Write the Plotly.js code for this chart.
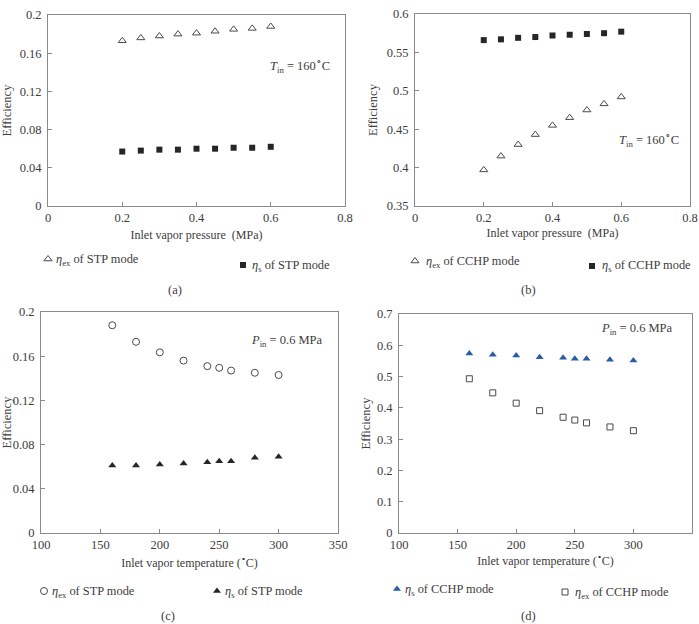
<!DOCTYPE html>
<html>
<head>
<meta charset="utf-8">
<script src="https://cdn.plot.ly/plotly-3.0.1.min.js"></script>
<style>
  html, body { margin: 0; padding: 0; background: #fff; }
  #chart { width: 699px; height: 624px; }
</style>
</head>
<body>
<div id="chart"></div>
<script>
// Inlet vapor pressure (MPa), panels (a) and (b)
const pressure = [0.2, 0.25, 0.3, 0.35, 0.4, 0.45, 0.5, 0.55, 0.6];
const stpExByPressure = [0.173, 0.176, 0.178, 0.180, 0.181, 0.183, 0.185, 0.186, 0.188];
const stpSByPressure = [0.057, 0.058, 0.059, 0.059, 0.060, 0.060, 0.061, 0.061, 0.062];
const cchpExByPressure = [0.397, 0.415, 0.430, 0.443, 0.455, 0.465, 0.475, 0.483, 0.492];
const cchpSByPressure = [0.566, 0.567, 0.569, 0.570, 0.572, 0.573, 0.574, 0.575, 0.577];

// Inlet vapor temperature (°C), panels (c) and (d)
const temperature = [160, 180, 200, 220, 240, 250, 260, 280, 300];
const stpExByTemp = [0.188, 0.173, 0.1635, 0.156, 0.151, 0.1495, 0.147, 0.145, 0.143];
const stpSByTemp = [0.061, 0.061, 0.062, 0.063, 0.064, 0.065, 0.065, 0.068, 0.069];
const cchpSByTemp = [0.574, 0.570, 0.567, 0.562, 0.560, 0.557, 0.557, 0.554, 0.551];
const cchpExByTemp = [0.493, 0.448, 0.415, 0.391, 0.370, 0.361, 0.352, 0.339, 0.327];

// Series labels shown beside each legend symbol
const labels = [
  '<i>η</i><sub>ex</sub> of STP mode', '<i>η</i><sub>s</sub> of STP mode',
  '<i>η</i><sub>ex</sub> of CCHP mode', '<i>η</i><sub>s</sub> of CCHP mode',
  '<i>η</i><sub>ex</sub> of STP mode', '<i>η</i><sub>s</sub> of STP mode',
  '<i>η</i><sub>s</sub> of CCHP mode', '<i>η</i><sub>ex</sub> of CCHP mode',
];

const W = 699, H = 624;
const FONT = 'Liberation Serif, Times New Roman, serif';
const TXT = '#3c3c3c';
const AX = '#8a8a8a';
const BLUE = '#2a5ba5';

function trace(x, y, xa, ya, legend, marker) {
  // legend entry carries only the symbol; the label is set as an annotation next to it
  return { x, y, xaxis: xa, yaxis: ya, name: ' ', legend, type: 'scatter', mode: 'markers',
           marker, cliponaxis: false };
}

const openTri = { symbol: 'triangle-up-open', size: 7, color: '#4a4a4a', line: { width: 1 } };
const solidSq = { symbol: 'square', size: 6, color: '#262626' };
const openCirc = { symbol: 'circle-open', size: 7, color: '#4a4a4a', line: { width: 1 } };
const solidTri = { symbol: 'triangle-up', size: 7, color: '#262626' };
const blueTri = { symbol: 'triangle-up', size: 7, color: BLUE };
const openSq = { symbol: 'square-open', size: 6, color: '#4a4a4a', line: { width: 1 } };

const data = [
  trace(pressure, stpExByPressure, 'x', 'y', 'legend', openTri),
  trace(pressure, stpSByPressure, 'x', 'y', 'legend2', solidSq),
  trace(pressure, cchpExByPressure, 'x2', 'y2', 'legend3', openTri),
  trace(pressure, cchpSByPressure, 'x2', 'y2', 'legend4', solidSq),
  trace(temperature, stpExByTemp, 'x3', 'y3', 'legend5', openCirc),
  trace(temperature, stpSByTemp, 'x3', 'y3', 'legend6', solidTri),
  trace(temperature, cchpSByTemp, 'x4', 'y4', 'legend7', blueTri),
  trace(temperature, cchpExByTemp, 'x4', 'y4', 'legend8', openSq),
];

function xAxis(domain, anchor, range, dtick, title, standoff) {
  return {
    domain, anchor, range, dtick, tick0: 0,
    showline: true, mirror: true, linecolor: AX, linewidth: 1,
    ticks: 'inside', ticklen: 4, tickcolor: AX, showgrid: false, zeroline: false,
    tickfont: { family: FONT, size: 12.5, color: TXT },
    title: { text: title, standoff, font: { family: FONT, size: 12, color: TXT } },
  };
}
function yAxis(domain, anchor, range, dtick, standoff) {
  return {
    domain, anchor, range, dtick,
    showline: true, mirror: true, linecolor: AX, linewidth: 1,
    ticks: 'inside', ticklen: 4, tickcolor: AX, showgrid: false, zeroline: false,
    ticklabelstandoff: 3,
    tickfont: { family: FONT, size: 12.5, color: TXT },
    title: { text: 'Efficiency', standoff, font: { family: FONT, size: 12.5, color: TXT } },
  };
}

// symbol legend: the marker centre sits about 19px right of the legend's x
function leg(cx, cy) {
  return { x: (cx - 19) / W, y: 1 - cy / H, xanchor: 'left', yanchor: 'middle',
           bgcolor: 'rgba(0,0,0,0)', borderwidth: 0, itemwidth: 30,
           font: { family: FONT, size: 2, color: TXT } };
}

function note(text, x, y, size, anchor) {
  return { text, x: x / W, y: 1 - y / H, xref: 'paper', yref: 'paper',
           xanchor: anchor || 'center', yanchor: 'middle',
           showarrow: false, font: { family: FONT, size: size || 13, color: TXT } };
}

// [symbol x, symbol y, label x, label y]
const legendSpots = [
  [47, 259, 54, 260], [242, 265, 250, 266],
  [414, 261, 424, 262], [591, 266, 600, 266],
  [43, 591, 50, 592], [216, 591, 223, 592],
  [396, 589, 403, 590], [564, 592, 573, 593],
];

const annotations = [
  note('<i>T</i><sub>in</sub> = 160<sup>∘</sup>C', 332, 66, 12.5, 'right'),
  note('<i>T</i><sub>in</sub> = 160<sup>∘</sup>C', 681, 140, 12.5, 'right'),
  note('<i>P</i><sub>in</sub> = 0.6 MPa', 325, 341, 12.5, 'right'),
  note('<i>P</i><sub>in</sub> = 0.6 MPa', 675, 329, 12.5, 'right'),
  note('(a)', 175, 290, 12.5),
  note('(b)', 528, 290, 12.5),
  note('(c)', 168, 616, 12.5),
  note('(d)', 528, 616, 12.5),
];
legendSpots.forEach((s, i) => annotations.push(note(labels[i], s[2], s[3], 12.4, 'left')));

const layout = {
  width: W, height: H,
  margin: { l: 0, r: 0, t: 0, b: 0 },
  paper_bgcolor: '#fff', plot_bgcolor: '#fff',
  showlegend: true,
  xaxis: xAxis([48 / W, 345 / W], 'y', [0, 0.8], 0.2, 'Inlet vapor pressure  (MPa)', 6),
  yaxis: yAxis([1 - 206 / H, 1 - 15 / H], 'x', [0, 0.2], 0.04, 6),
  xaxis2: xAxis([415 / W, 690 / W], 'y2', [0, 0.8], 0.2, 'Inlet vapor pressure  (MPa)', 4),
  yaxis2: yAxis([1 - 206 / H, 1 - 14 / H], 'x2', [0.35, 0.6], 0.05, 6),
  xaxis3: xAxis([41 / W, 338 / W], 'y3', [100, 350], 50, 'Inlet vapor temperature (<sup>∘</sup>C)', 7),
  yaxis3: yAxis([1 - 533 / H, 1 - 312 / H], 'x3', [0, 0.2], 0.04, 3),
  xaxis4: xAxis([399 / W, 692 / W], 'y4', [100, 350], 50, 'Inlet vapor temperature (<sup>∘</sup>C)', 5),
  yaxis4: yAxis([1 - 533 / H, 1 - 314 / H], 'x4', [0, 0.7], 0.1, 3),
  annotations,
};
legendSpots.forEach((s, i) => {
  layout[i === 0 ? 'legend' : 'legend' + (i + 1)] = leg(s[0], s[1]);
});

Plotly.newPlot('chart', data, layout, { displayModeBar: false, staticPlot: true });
</script>
</body>
</html>
